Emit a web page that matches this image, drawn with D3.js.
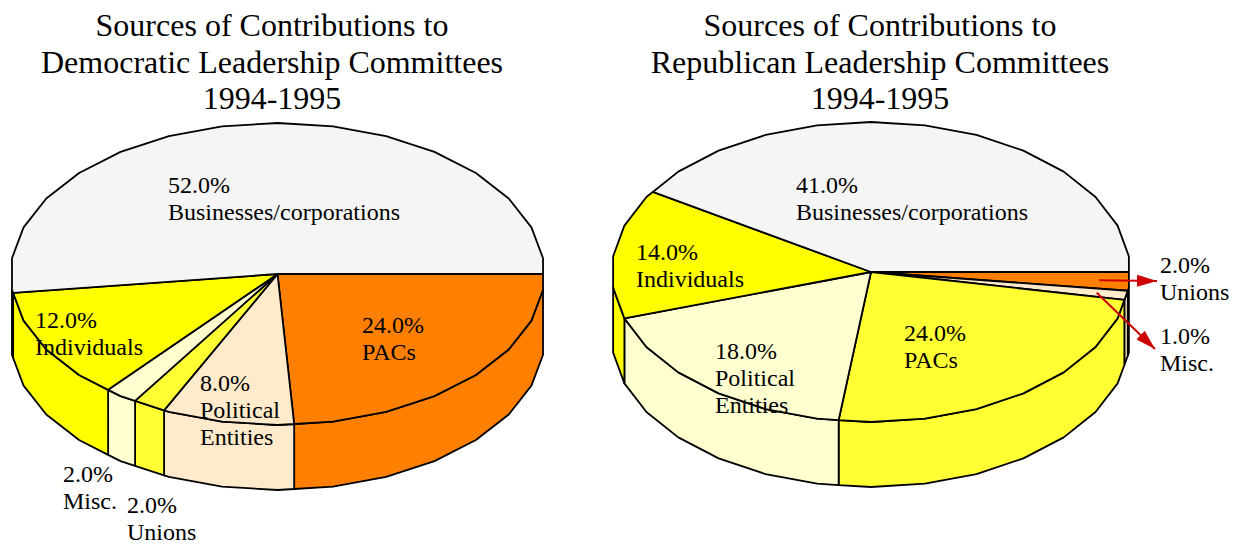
<!DOCTYPE html>
<html>
<head>
<meta charset="utf-8">
<script src="https://cdn.jsdelivr.net/npm/d3@7"></script>
<style>
  html, body { margin: 0; padding: 0; background: #fff; }
  svg { display: block; }
  text { font-family: "Liberation Serif", "Times New Roman", "DejaVu Serif", serif; }
</style>
</head>
<body>
<svg id="chart" width="1238" height="546"></svg>
<script>
// ---- data -------------------------------------------------------------
const demTitle = ["Sources of Contributions to", "Democratic Leadership Committees", "1994-1995"];
const demCategories = ["PACs", "Political Entities", "Unions", "Misc.", "Individuals", "Businesses/corporations"];
const demShares = [24, 8, 2, 2, 12, 52];

const repTitle = ["Sources of Contributions to", "Republican Leadership Committees", "1994-1995"];
const repCategories = ["Unions", "Misc.", "PACs", "Political Entities", "Individuals", "Businesses/corporations"];
const repShares = [2, 1, 24, 18, 14, 41];

// slices are coloured by their position around the pie
const sliceColors = ["#FF8000", "#FFEBCC", "#FFFF33", "#FFFFD0", "#FFFF00", "#F5F5F5"];

// ---- layout -----------------------------------------------------------
const pct = v => d3.format(".1f")(v) + "%";
const lineBreaks = { "Political Entities": ["Political", "Entities"] };

const pies = [
  {
    title: demTitle, categories: demCategories, values: demShares,
    cx: 277.5, cy: 274, rx: 267, ry: 151, depth: 65, titleX: 272,
    labelAt: {
      "Businesses/corporations": [168, 193],
      "PACs": [362, 333],
      "Political Entities": [200, 391],
      "Unions": [127, 513],
      "Misc.": [63, 482],
      "Individuals": [35, 328]
    },
    arrows: {}
  },
  {
    title: repTitle, categories: repCategories, values: repShares,
    cx: 871, cy: 272, rx: 259.3, ry: 150, depth: 65, titleX: 880,
    labelAt: {
      "Businesses/corporations": [796, 193],
      "Unions": [1160, 273],
      "Misc.": [1160, 344],
      "PACs": [904, 341],
      "Political Entities": [715, 359],
      "Individuals": [636, 260]
    },
    arrows: { "Unions": [1157, 281], "Misc.": [1155, 349] }
  }
];

const svg = d3.select("#chart");

svg.append("defs").append("marker")
  .attr("id", "arrowHead")
  .attr("viewBox", "0 0 20 12")
  .attr("refX", 20).attr("refY", 6)
  .attr("markerUnits", "userSpaceOnUse")
  .attr("markerWidth", 20).attr("markerHeight", 12)
  .attr("orient", "auto")
  .append("path")
  .attr("d", "M0,0 L20,6 L0,12 Z")
  .attr("fill", "#CC0000");

// The rim is a polygon with vertices every 12°, offset by half a step.
const STEP = Math.PI / 15;
const OFF = STEP / 2;

function vertex(p, t) {
  return [p.cx + p.rx * Math.cos(t), p.cy + p.ry * Math.sin(t)];
}
function rimPoint(p, t) {
  const k = Math.floor((t - OFF) / STEP + 1e-9);
  const t0 = OFF + k * STEP;
  const f = (t - t0) / STEP;
  const a = vertex(p, t0), b = vertex(p, t0 + STEP);
  return [a[0] + (b[0] - a[0]) * f, a[1] + (b[1] - a[1]) * f];
}
function rimPoints(p, ta, tb) {
  const pts = [rimPoint(p, ta)];
  let k = Math.floor((ta - OFF) / STEP + 1e-9) + 1;
  for (; OFF + k * STEP < tb - 1e-9; k++) pts.push(vertex(p, OFF + k * STEP));
  pts.push(rimPoint(p, tb));
  return pts;
}

const line = d3.line();

pies.forEach(p => {
  const g = svg.append("g");

  // title
  g.append("text")
    .style("font-size", "32px")
    .attr("text-anchor", "middle").attr("fill", "#000")
    .selectAll("tspan").data(p.title).join("tspan")
    .attr("x", p.titleX).attr("y", (d, i) => 36 + i * 36.5)
    .text(d => d);

  // pie layout: first slice starts at 3 o'clock and runs clockwise
  const arcs = d3.pie().sort(null)
    .startAngle(Math.PI / 2).endAngle(Math.PI / 2 + 2 * Math.PI)(p.values)
    .map((a, i) => ({
      t0: a.startAngle - Math.PI / 2,
      t1: a.endAngle - Math.PI / 2,
      value: a.value, category: p.categories[i], color: sliceColors[i]
    }));

  // front side walls
  const sideLo = OFF, sideHi = Math.PI - OFF;
  arcs.forEach(s => {
    const a = Math.max(s.t0, sideLo), b = Math.min(s.t1, sideHi);
    if (b <= a) return;
    const top = rimPoints(p, a, b);
    const bottom = top.map(q => [q[0], q[1] + p.depth]).reverse();
    g.append("path")
      .attr("d", line(top.concat(bottom)) + "Z")
      .attr("fill", s.color).attr("stroke", "#000")
      .attr("stroke-width", 1.8).attr("stroke-linejoin", "round");
  });

  // top faces
  arcs.forEach(s => {
    const pts = [[p.cx, p.cy]].concat(rimPoints(p, s.t0, s.t1));
    g.append("path")
      .attr("d", line(pts) + "Z")
      .attr("fill", s.color).attr("stroke", "#000")
      .attr("stroke-width", 1.8).attr("stroke-linejoin", "round");
  });

  // leader arrows for the thin slices
  arcs.forEach(s => {
    const tip = p.arrows[s.category];
    if (!tip) return;
    const edge = rimPoint(p, (s.t0 + s.t1) / 2);
    const f = 0.885;
    g.append("line")
      .attr("x1", p.cx + (edge[0] - p.cx) * f)
      .attr("y1", p.cy + (edge[1] - p.cy) * f)
      .attr("x2", tip[0]).attr("y2", tip[1])
      .attr("stroke", "#CC0000").attr("stroke-width", 2)
      .attr("marker-end", "url(#arrowHead)");
  });

  // value + category labels
  arcs.forEach(s => {
    const at = p.labelAt[s.category];
    const lines = [pct(s.value)].concat(lineBreaks[s.category] || [s.category]);
    g.append("text")
      .style("font-size", "24px").attr("fill", "#000")
      .selectAll("tspan").data(lines).join("tspan")
      .attr("x", at[0]).attr("y", (d, i) => at[1] + i * 27)
      .text(d => d);
  });
});
</script>
</body>
</html>
